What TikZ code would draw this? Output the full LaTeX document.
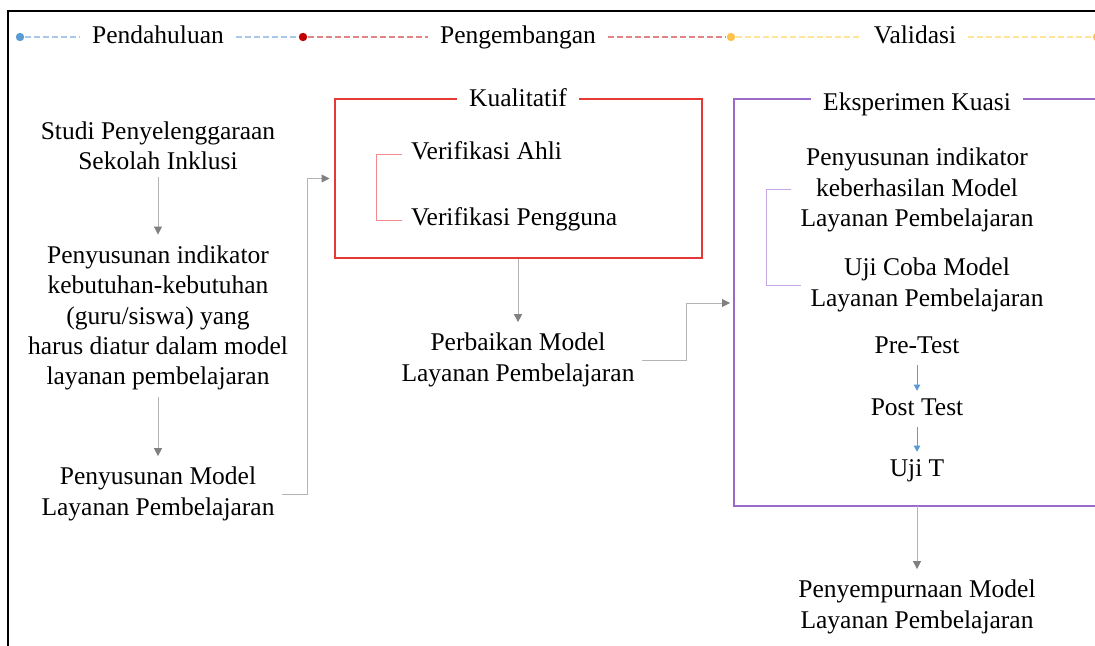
\documentclass[tikz,border=0pt]{standalone}
\usepackage{fontspec}
\setmainfont{Liberation Serif}
\usetikzlibrary{positioning}
\usetikzlibrary{arrows.meta}

\definecolor{dotblue}{HTML}{5B9BD5}
\definecolor{dashblue}{HTML}{A9C9EA}
\definecolor{dotred}{HTML}{C00000}
\definecolor{dashred}{HTML}{E08484}
\definecolor{dotyellow}{HTML}{FFC34D}
\definecolor{dashyellow}{HTML}{FFE49A}
\definecolor{kualred}{HTML}{E53935}
\definecolor{brkred}{HTML}{F28C8C}
\definecolor{ekspurple}{HTML}{9B6BCB}
\definecolor{brkpurple}{HTML}{C5A8E3}
\definecolor{conngray}{HTML}{B4B4B4}
\definecolor{tipgray}{HTML}{808080}

\begin{document}
\begin{tikzpicture}[x=0.5pt,y=-0.5pt,
  every node/.style={font=\fontsize{12.75}{15.2}\selectfont},
  txt/.style={align=center},
  oneline/.style={text height=0.7em,text depth=0.22em},
  phase/.style={oneline,inner xsep=6pt,inner ysep=2pt},
  boxtitle/.style={oneline,fill=white,inner xsep=6pt,inner ysep=1pt},
  dot/.style={circle,inner sep=0pt,minimum size=4.2pt},
  conn/.style={draw=conngray,line width=0.5pt,shorten >=2pt,-{Triangle[length=4pt,width=4pt,color=tipgray]}},
  blueconn/.style={draw=dotblue,line width=0.5pt,shorten >=2pt,-{Triangle[length=3pt,width=3.2pt]}},
  phaseline/.style={line width=0.6pt,dash pattern=on 3pt off 1.5pt}]
\useasboundingbox (0,0) rectangle (1095,646);
\draw[line width=1pt] (8,646) -- (8,11) -- (1095,11);

% phases
\node[dot,fill=dotblue] (d1) at (20,37) {};
\node[phase] (p1) at (158,39) {Pendahuluan};
\node[dot,fill=dotred] (d2) at (303,37) {};
\node[phase] (p2) at (518,39) {Pengembangan};
\node[dot,fill=dotyellow] (d3) at (731,37) {};
\node[phase] (p3) at (915,39) {Validasi};
\node[dot,fill=dotyellow] (d4) at (1097,37) {};
\draw[phaseline,dashblue] (d1) -- (d1 -| p1.west);
\draw[phaseline,dashblue] (d2 -| p1.east) -- (d2);
\draw[phaseline,dashred] (d2) -- (d2 -| p2.west);
\draw[phaseline,dashred] (d3 -| p2.east) -- (d3);
\draw[phaseline,dashyellow] (d3) -- (d3 -| p3.west);
\draw[phaseline,dashyellow] (d4 -| p3.east) -- (d4);

% pendahuluan
\node[txt] (studi) at (158,146) {Studi Penyelenggaraan\\Sekolah Inklusi};
\node[txt] (indik) at (158,318) {Penyusunan indikator\\kebutuhan-kebutuhan\\(guru/siswa) yang\\harus diatur dalam model\\layanan pembelajaran};
\node[txt] (susun) at (158,494) {Penyusunan Model\\Layanan Pembelajaran};
\draw[conn] (studi) -- (indik);
\draw[conn] (indik) -- (susun);

% pengembangan
\node[draw=kualred,line width=1pt,minimum width=183.5pt,minimum height=79.5pt] (kual) at (518,178.5) {};
\node[boxtitle] (kualt) at (518,102) {Kualitatif};
\node[oneline,anchor=west] (ahli) at (404,155) {Verifikasi Ahli};
\node[oneline,anchor=west] (pengg) at (404,221) {Verifikasi Pengguna};
\draw[brkred,line width=0.5pt] ([xshift=-1pt]ahli.west) -- ++(-26,0) |- ([xshift=-1pt]pengg.west);
\node[txt] (perb) at (518,360) {Perbaikan Model\\Layanan Pembelajaran};
\draw[conn] (susun.east) -- ++(26,0) |- (kual.west);
\draw[conn] (kual) -- (perb);

% validasi
\draw[ekspurple,line width=1pt] (1096,99) -- (734,99) -- (734,506) -- (1096,506);
\coordinate (eksin) at (734,303);
\coordinate (eksout) at (917,506);
\node[boxtitle] (ekst) at (917,106) {Eksperimen Kuasi};
\node[txt] (indik2) at (917,190) {Penyusunan indikator\\keberhasilan Model\\Layanan Pembelajaran};
\node[txt] (ujicoba) at (927,285) {Uji Coba Model\\Layanan Pembelajaran};
\draw[brkpurple,line width=0.5pt] ([xshift=-1pt]indik2.west) -- ++(-25,0) |- ([xshift=-1pt]ujicoba.west);
\node[txt,oneline] (pre) at (917,349) {Pre-Test};
\node[txt,oneline] (post) at (917,411) {Post Test};
\node[txt,oneline] (ujit) at (917,472) {Uji T};
\draw[blueconn] (pre) -- (post);
\draw[blueconn] (post) -- (ujit);
\node[txt] (sempurna) at (917,607) {Penyempurnaan Model\\Layanan Pembelajaran};
\draw[conn] (perb.east) -- ++(45,0) |- (eksin);
\draw[conn] (eksout) -- (sempurna);
\end{tikzpicture}
\end{document}
